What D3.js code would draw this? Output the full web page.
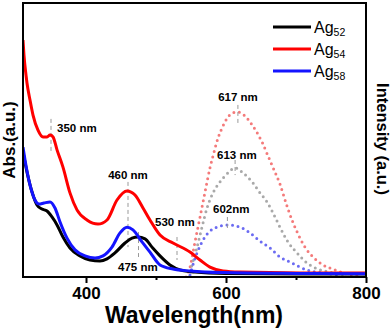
<!DOCTYPE html>
<html>
<head>
<meta charset="utf-8">
<style>
  body { margin: 0; background: #fff; }
  text { font-family: Arial, "Liberation Sans", sans-serif; }
</style>
</head>
<body>
<script src="https://d3js.org/d3.v7.min.js"></script>
<script>
// absorbance spectra: wavelength (nm) / absorbance (a.u.)
var ag52Wl  = [310, 315.7, 322.9, 330, 337.1, 344.3, 351.4, 358.6, 367.1, 377.1, 391.4, 405.7, 420, 430, 441.4, 455.7, 465.7, 474.3, 484.3, 494.3, 505.7, 520, 534.3, 555.7, 600, 700, 800];
var ag52Abs = [0.456, 0.383, 0.310, 0.263, 0.248, 0.241, 0.219, 0.190, 0.146, 0.106, 0.077, 0.062, 0.058, 0.066, 0.088, 0.124, 0.142, 0.146, 0.139, 0.109, 0.077, 0.044, 0.026, 0.018, 0.013, 0.011, 0.011];

var ag54Wl  = [310, 311.4, 314.3, 315.7, 320, 324.3, 331.4, 338.6, 344.3, 348.6, 352.9, 358.6, 367.1, 377.1, 387.1, 401.4, 417.1, 430, 444.3, 458.6, 470, 481.4, 491.4, 505.7, 524.3, 548.6, 562.9, 577.1, 595.7, 620, 705.7, 800];
var ag54Abs = [0.865, 0.810, 0.737, 0.708, 0.646, 0.591, 0.536, 0.511, 0.511, 0.518, 0.511, 0.464, 0.401, 0.307, 0.245, 0.208, 0.193, 0.208, 0.281, 0.314, 0.299, 0.252, 0.208, 0.153, 0.124, 0.091, 0.062, 0.036, 0.022, 0.018, 0.015, 0.015];

var ag58Wl  = [310, 312.9, 320, 327.1, 332.9, 340, 348.6, 355.7, 362.9, 372.9, 384.3, 398.6, 412.9, 424.3, 437.1, 448.6, 458.6, 467.1, 480, 491.4, 505.7, 524.3, 548.6, 595.7, 700, 800];
var ag58Abs = [0.474, 0.427, 0.336, 0.281, 0.266, 0.270, 0.274, 0.252, 0.201, 0.142, 0.099, 0.077, 0.069, 0.077, 0.109, 0.161, 0.182, 0.172, 0.128, 0.091, 0.044, 0.029, 0.022, 0.016, 0.013, 0.012];

// emission spectra: wavelength (nm) / intensity (a.u.)
var pl54Wl  = [542.9, 548.6, 555.7, 562.9, 570, 577.1, 582.9, 588.6, 595.7, 602.9, 610, 617.1, 625.7, 634.3, 642.9, 651.4, 660, 668.6, 677.1, 685.7, 694.3, 702.9, 712.9, 724.3, 738.6, 755.7, 772.9, 791.4];
var pl54Int = [0.000, 0.036, 0.128, 0.219, 0.310, 0.398, 0.456, 0.507, 0.551, 0.584, 0.599, 0.602, 0.591, 0.566, 0.533, 0.493, 0.442, 0.391, 0.339, 0.270, 0.208, 0.157, 0.109, 0.073, 0.044, 0.026, 0.011, 0.004];

var pl52Wl  = [547.1, 551.4, 558.6, 565.7, 572.9, 581.4, 591.4, 602.9, 612.9, 624.3, 638.6, 648.6, 658.6, 667.1, 677.1, 688.6, 701.4, 715.7, 731.4, 748.6, 770];
var pl52Int = [0.000, 0.044, 0.109, 0.182, 0.252, 0.307, 0.347, 0.380, 0.398, 0.380, 0.343, 0.307, 0.274, 0.234, 0.182, 0.128, 0.088, 0.051, 0.029, 0.018, 0.007];

var pl58Wl  = [548.6, 551.4, 558.6, 565.7, 574.3, 587.1, 602.9, 620, 634.3, 648.6, 662.9, 677.1, 691.4, 705.7, 720, 738.6, 762.9];
var pl58Int = [0.007, 0.033, 0.088, 0.128, 0.161, 0.182, 0.190, 0.182, 0.161, 0.131, 0.106, 0.073, 0.055, 0.036, 0.022, 0.015, 0.007];

var legendNames = ["52", "54", "58"];
var lineColors  = ["#000000", "#ff0000", "#1414ff"];

// peak markers: wavelength, top and bottom of the dashed mark (a.u.), label
var markWl    = [350, 460, 475, 530, 617, 613, 602];
var markTop   = [0.577, 0.347, 0.164, 0.146, 0.628, 0.427, 0.219];
var markBot   = [0.453, 0.109, 0.073, 0.062, 0.562, 0.372, 0.172];
var markLabel = ["350 nm", "460 nm", "475 nm", "530 nm", "617 nm", "613 nm", "602nm"];

var xTicks = [400, 600, 800];
var xMinor = [500, 700];

var W = 392, H = 330;
var pLeft = 23, pRight = 366, pTop = 3, pBottom = 277;

var svg = d3.select("body").append("svg")
    .attr("width", W)
    .attr("height", H);

var x = d3.scaleLinear().domain([310, 800]).range([pLeft, pRight]);
var y = d3.scaleLinear().domain([0, 1]).range([pBottom, pTop]);

function pairs(wl, v) {
    return wl.map(function(d, i) { return [d, v[i]]; });
}

var line = d3.line()
    .curve(d3.curveMonotoneX)
    .x(function(d) { return x(d[0]); })
    .y(function(d) { return y(d[1]); });

svg.append("clipPath").attr("id", "plot")
  .append("rect")
    .attr("x", pLeft).attr("y", pTop)
    .attr("width", pRight - pLeft).attr("height", pBottom - pTop);

var plot = svg.append("g").attr("clip-path", "url(#plot)");

// emission (dotted)
var pl = [
    {d: pairs(pl54Wl, pl54Int), c: "#f47a7a"},
    {d: pairs(pl52Wl, pl52Int), c: "#a9a9a9"},
    {d: pairs(pl58Wl, pl58Int), c: "#6b6bf2"}
];
pl.forEach(function(s) {
    plot.append("path")
        .attr("d", line(s.d))
        .style("fill", "none")
        .style("stroke", s.c)
        .style("stroke-width", 3)
        .style("stroke-linecap", "round")
        .style("stroke-dasharray", "0,5.6");
});

// dashed peak markers
markWl.forEach(function(w, i) {
    plot.append("line")
        .attr("x1", x(w)).attr("x2", x(w))
        .attr("y1", y(markTop[i])).attr("y2", y(markBot[i]))
        .style("stroke", "#999")
        .style("stroke-width", 1)
        .style("stroke-dasharray", "4,3");
});

// absorbance (solid)
var abs = [pairs(ag52Wl, ag52Abs), pairs(ag54Wl, ag54Abs), pairs(ag58Wl, ag58Abs)];
abs.forEach(function(d, i) {
    plot.append("path")
        .attr("d", line(d))
        .style("fill", "none")
        .style("stroke", lineColors[i])
        .style("stroke-width", 3)
        .style("stroke-linejoin", "round");
});

// peak labels
var labelPos = [
    {x: 57, y: 132, a: "start"},
    {x: 128, y: 179, a: "middle"},
    {x: 118, y: 271, a: "start"},
    {x: 155, y: 226, a: "start"},
    {x: 238, y: 101, a: "middle"},
    {x: 217, y: 159, a: "start"},
    {x: 213, y: 213, a: "start"}
];
markLabel.forEach(function(t, i) {
    svg.append("text")
        .attr("x", labelPos[i].x).attr("y", labelPos[i].y)
        .attr("text-anchor", labelPos[i].a)
        .style("font-size", "11.5px")
        .style("font-weight", "bold")
        .text(t);
});

// frame
svg.append("rect")
    .attr("x", pLeft).attr("y", pTop)
    .attr("width", pRight - pLeft).attr("height", pBottom - pTop)
    .style("fill", "none")
    .style("stroke", "#000")
    .style("stroke-width", 2);

// x axis
var xAxis = d3.axisBottom(x).tickValues(xTicks).tickSize(6).tickPadding(4).tickFormat(d3.format("d"));
var gx = svg.append("g")
    .attr("transform", "translate(0," + pBottom + ")")
    .call(xAxis);
gx.select(".domain").remove();
gx.selectAll(".tick line").style("stroke-width", 2);
gx.selectAll(".tick text")
    .style("font-size", "17px")
    .style("font-weight", "bold")
    .style("font-family", "Arial, 'Liberation Sans', sans-serif");

var gm = svg.append("g")
    .attr("transform", "translate(0," + pBottom + ")")
    .call(d3.axisBottom(x).tickValues(xMinor).tickSize(3).tickFormat(""));
gm.select(".domain").remove();
gm.selectAll(".tick line").style("stroke-width", 2);

// axis titles
svg.append("text")
    .attr("x", 194).attr("y", 323)
    .attr("text-anchor", "middle")
    .style("font-size", "23px")
    .style("font-weight", "bold")
    .text("Wavelength(nm)");

svg.append("text")
    .attr("transform", "translate(15,140) rotate(-90)")
    .attr("text-anchor", "middle")
    .style("font-size", "17px")
    .style("font-weight", "bold")
    .text("Abs.(a.u.)");

svg.append("text")
    .attr("transform", "translate(377,139) rotate(90)")
    .attr("text-anchor", "middle")
    .style("font-size", "16.5px")
    .style("font-weight", "bold")
    .text("Intensity (a.u.)");

// legend
legendNames.forEach(function(n, i) {
    var ly = 27 + i * 22;
    svg.append("line")
        .attr("x1", 273).attr("x2", 311)
        .attr("y1", ly).attr("y2", ly)
        .style("stroke", lineColors[i])
        .style("stroke-width", 3);
    var t = svg.append("text")
        .attr("x", 314).attr("y", ly + 6)
        .style("font-size", "16px");
    t.append("tspan").text("Ag");
    t.append("tspan")
        .attr("dy", 3)
        .style("font-size", "10.5px")
        .text(n);
});
</script>
</body>
</html>
